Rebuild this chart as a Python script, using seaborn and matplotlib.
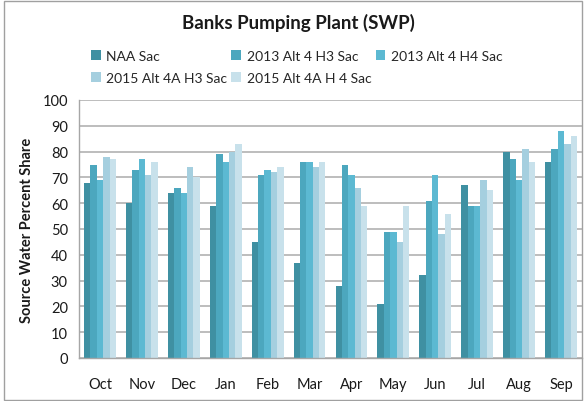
import matplotlib
matplotlib.use("Agg")
import matplotlib.pyplot as plt
from matplotlib.patches import Patch, Rectangle
import pandas as pd
import seaborn as sns

MONTHS = ["Oct", "Nov", "Dec", "Jan", "Feb", "Mar", "Apr", "May", "Jun", "Jul", "Aug", "Sep"]
SERIES = ["NAA Sac", "2013 Alt 4 H3 Sac", "2013 Alt 4 H4 Sac", "2015 Alt 4A H3 Sac", "2015 Alt 4A H 4 Sac"]
NAA_SAC = [68, 60, 64, 59, 45, 37, 28, 21, 32, 67, 80, 76]
ALT4_H3_2013 = [75, 73, 66, 79, 71, 76, 75, 49, 61, 59, 77, 81]
ALT4_H4_2013 = [69, 77, 64, 76, 73, 76, 71, 49, 71, 59, 69, 88]
ALT4A_H3_2015 = [78, 71, 74, 80, 72, 74, 66, 45, 48, 69, 81, 83]
ALT4A_H4_2015 = [77, 76, 70, 83, 74, 76, 59, 59, 56, 65, 76, 86]
COLORS = ["#3F90A2", "#4CA7BE", "#5CB9D2", "#A5CFDF", "#C8E1EB"]

values = [NAA_SAC, ALT4_H3_2013, ALT4_H4_2013, ALT4A_H3_2015, ALT4A_H4_2015]
rows = []
for name, vals in zip(SERIES, values):
    for month, v in zip(MONTHS, vals):
        rows.append({"month": month, "series": name, "share": v})
data = pd.DataFrame(rows)

sns.set_theme(style="white")
plt.rcParams["font.family"] = ["Lato", "DejaVu Sans"]

fig = plt.figure(figsize=(5.84, 4.02), dpi=100)
ax = fig.add_axes([79 / 584, 1 - 359 / 402, 503 / 584, 258 / 402])

sns.barplot(
    data=data,
    x="month",
    y="share",
    hue="series",
    hue_order=SERIES,
    order=MONTHS,
    palette=COLORS,
    width=0.76,
    gap=0,
    linewidth=0,
    saturation=1,
    legend=False,
    ax=ax,
)

ax.set_ylim(0, 100)
ax.set_xlim(-0.5, len(MONTHS) - 0.5)
ax.set_yticks(range(0, 101, 10))
ax.set_axisbelow(True)
ax.yaxis.grid(True, color="#B8B8B8", linewidth=1.3)
ax.xaxis.grid(False)
for side in ["top", "right"]:
    ax.spines[side].set_visible(False)
for side in ["left", "bottom"]:
    ax.spines[side].set_color("#A6A6A6")
    ax.spines[side].set_linewidth(1.0)

ax.set_xticks([i - 0.5 for i in range(len(MONTHS) + 1)], minor=True)
ax.tick_params(axis="x", which="major", length=0, pad=14, labelsize=10.5, colors="#1A1A1A")
ax.tick_params(axis="x", which="minor", length=4, width=1, color="#A6A6A6", direction="out")
ax.tick_params(axis="y", length=4, width=1, color="#A6A6A6", direction="out", labelsize=10.5, pad=4, colors="#1A1A1A")

ax.set_xlabel("")
ax.set_ylabel("Source Water Percent Share", fontsize=10.5, fontweight="bold", color="#1A1A1A", labelpad=6)

fig.text(298 / 584, 1 - 23 / 402, "Banks Pumping Plant (SWP)", ha="center", va="center",
         fontsize=13.5, fontweight="bold", color="#1A1A1A")

handles = [Patch(facecolor=c, edgecolor="none") for c in COLORS]
order = [0, 3, 1, 4, 2]
fig.legend(
    [handles[i] for i in order],
    [SERIES[i] for i in order],
    ncol=3,
    loc="upper left",
    bbox_to_anchor=(91 / 584, 1 - 51 / 402),
    frameon=False,
    fontsize=10,
    handlelength=0.7,
    handleheight=0.7,
    handletextpad=0.4,
    columnspacing=0.3,
    labelspacing=0.72,
    borderpad=0,
    borderaxespad=0,
)

fig.patches.append(Rectangle((4 / 584, 1 / 402), 578 / 584, 399 / 402, transform=fig.transFigure,
                             fill=False, edgecolor="#A0A0A0", linewidth=1.0))

fig.savefig("out.png", dpi=100)
